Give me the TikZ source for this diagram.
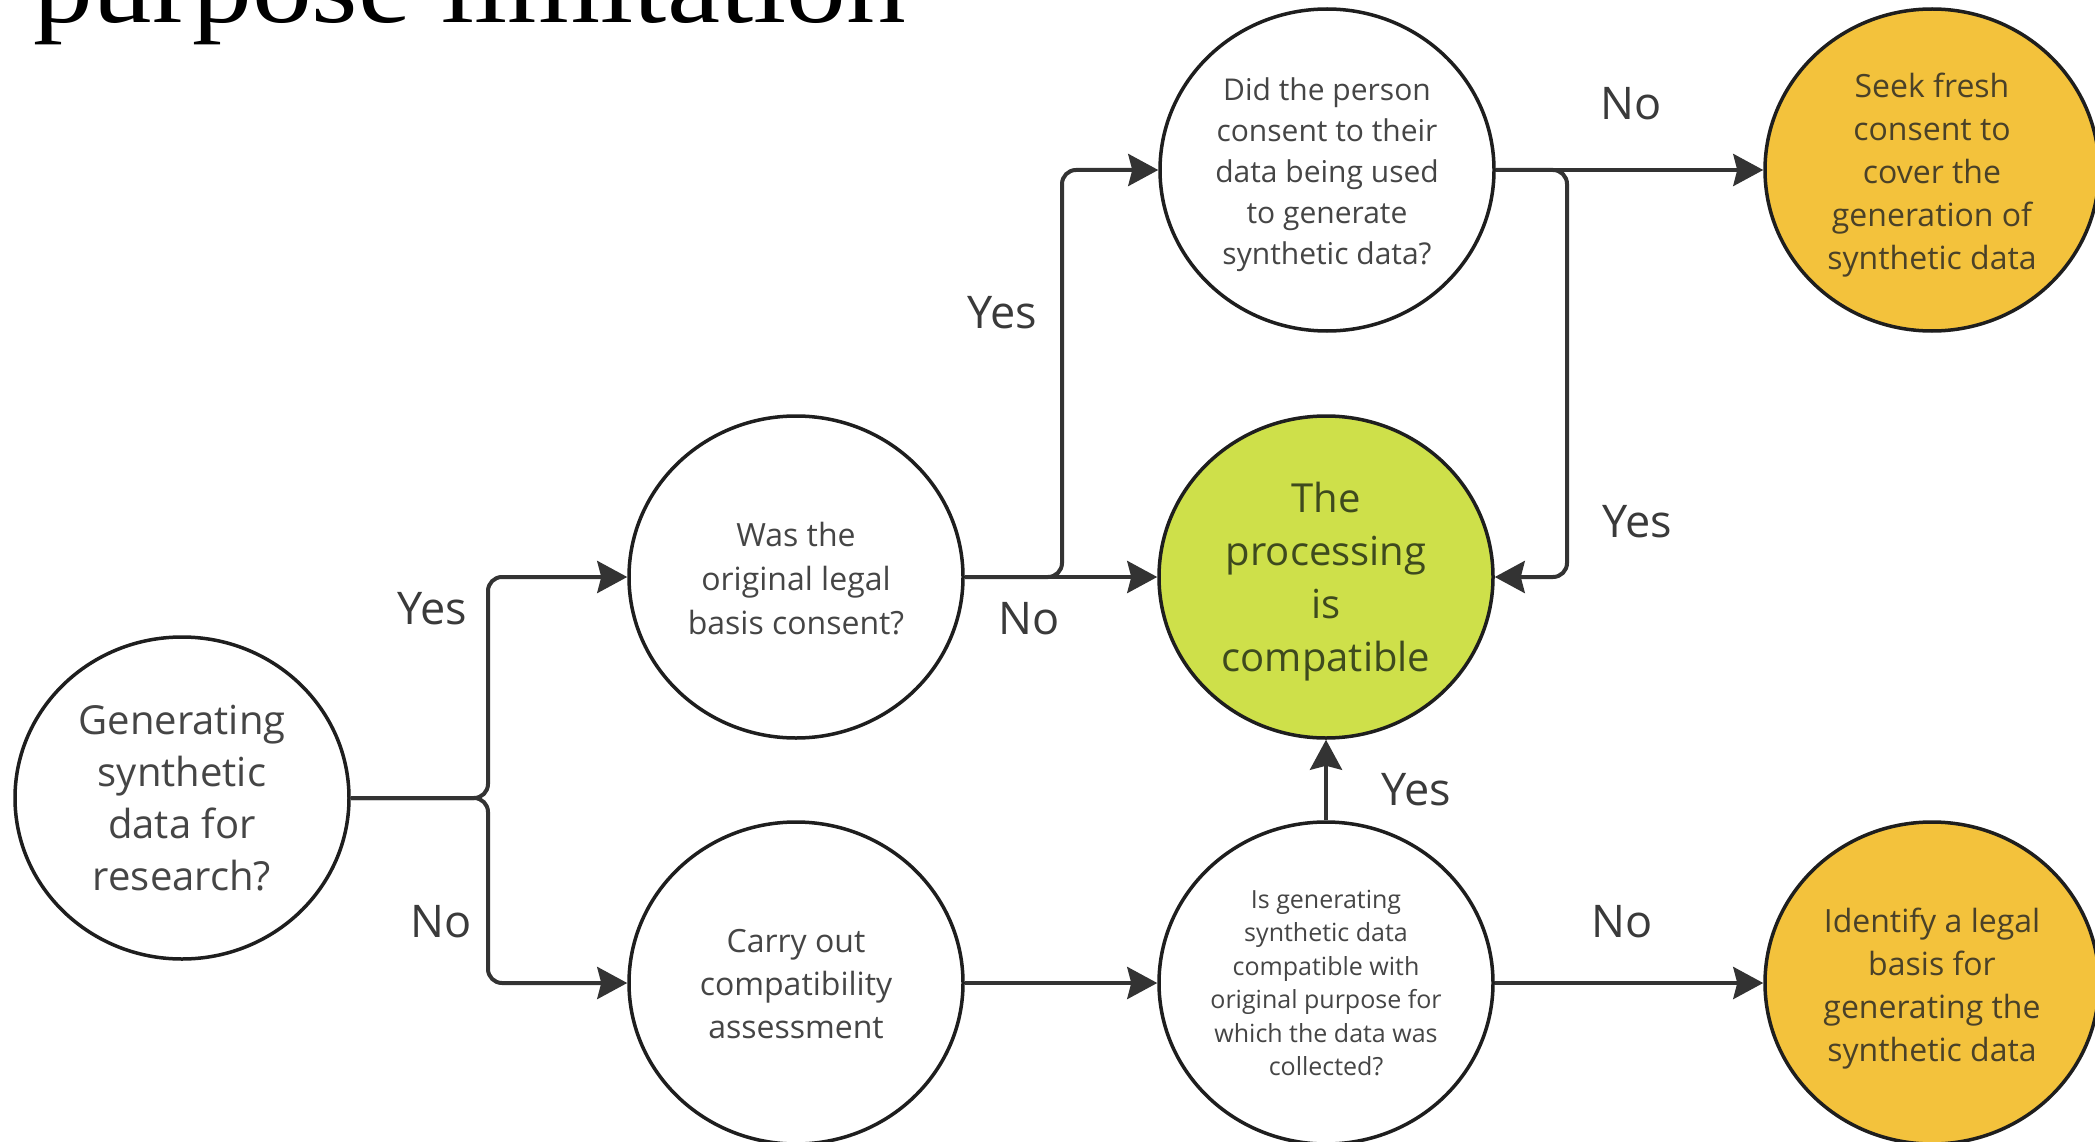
\documentclass[tikz,border=0pt]{standalone}
\usepackage{fontspec}
\setmainfont{Open Sans}
\newfontfamily\titlefont{Liberation Serif}
\usetikzlibrary{shapes.geometric,arrows.meta}
\definecolor{lineclr}{HTML}{333333}
\definecolor{circclr}{HTML}{1E1E1E}
\definecolor{txtclr}{HTML}{454545}
\definecolor{lblclr}{HTML}{3A3A3A}
\definecolor{yellowc}{HTML}{F3C23C}
\definecolor{greenc}{HTML}{CEE04A}
\definecolor{ytxt}{HTML}{4A4128}
\definecolor{gtxt}{HTML}{3E4A1E}
\begin{document}
\begin{tikzpicture}[x=1pt,y=-1pt,
  bub/.style={ellipse, draw=circclr, line width=3.5pt, minimum width=334pt, minimum height=322pt, inner sep=0pt, fill=white},
  btxt/.style={align=center, inner sep=0pt, text=txtclr},
  conn/.style={draw=lineclr, line width=4pt, rounded corners=14pt},
  arr/.style={conn, -{Stealth[length=30pt,width=32pt,inset=4pt]}},
  lbl/.style={font=\fontsize{45}{54}\selectfont, text=lblclr, inner sep=0pt}]
\useasboundingbox[fill=white] (0,0) rectangle (2095,1142);

\node[anchor=base west, inner sep=0pt, font=\titlefont\fontsize{105}{110}\selectfont] (title) at (33,23) {\scalebox{1.138}[1]{purpose limitation}};

\node[bub] (A) at (182,798) {};
\node[bub] (B) at (796,577) {};
\node[bub] (C) at (1327,170) {};
\node[bub, fill=yellowc] (D) at (1932,170) {};
\node[bub, fill=greenc] (E) at (1326,577) {};
\node[bub] (F) at (796,983) {};
\node[bub] (G) at (1326,983) {};
\node[bub, fill=yellowc] (H) at (1932,983) {};

\node[btxt, font=\fontsize{40}{52}\selectfont] (At) at (182,798) {Generating\\synthetic\\data for\\research?};
\node[btxt, font=\fontsize{32}{44}\selectfont] (Bt) at (796,579) {Was the\\original legal\\basis consent?};
\node[btxt, font=\fontsize{30}{41}\selectfont] (Ct) at (1327,175) {Did the person\\consent to their\\data being used\\to generate\\synthetic data?};
\node[btxt, text=ytxt, font=\fontsize{32}{43}\selectfont] (Dt) at (1932,175) {Seek fresh\\consent to\\cover the\\generation of\\synthetic data};
\node[btxt, text=gtxt, font=\fontsize{40}{53}\selectfont] (Et) at (1326,582) {The\\processing\\is\\compatible};
\node[btxt, font=\fontsize{32}{43}\selectfont] (Ft) at (796,984) {Carry out\\compatibility\\assessment};
\node[btxt, font=\fontsize{25}{33.4}\selectfont] (Gt) at (1326,983) {Is generating\\synthetic data\\compatible with\\original purpose for\\which the data was\\collected?};
\node[btxt, text=ytxt, font=\fontsize{32}{43}\selectfont] (Ht) at (1932,989) {Identify a legal\\basis for\\generating the\\synthetic data};

\node[lbl] (l1) at (432,609) {Yes};
\node[lbl] (l2) at (441,922) {No};
\node[lbl] (l3) at (1002,313) {Yes};
\node[lbl] (l4) at (1029,619) {No};
\node[lbl] (l5) at (1631,104) {No};
\node[lbl] (l6) at (1637,522) {Yes};
\node[lbl] (l7) at (1416,790) {Yes};
\node[lbl] (l8) at (1622,922) {No};

\coordinate (jA) at (488,798);
\coordinate (jB) at (1062,577);
\coordinate (jC) at (1567,170);
\draw[arr] (A.east) -- (jA) |- (B.west);
\draw[arr] (A.east) -- (jA) |- (F.west);
\draw[arr] (B.east) -- (E.west);
\draw[arr] (B.east) -- (jB) |- (C.west);
\draw[arr] (C.east) -- (D.west);
\draw[arr] (C.east) -- (jC) |- (E.east);
\draw[arr] (F.east) -- (G.west);
\draw[arr] (G.north) -- (E.south);
\draw[arr] (G.east) -- (H.west);
\end{tikzpicture}
\end{document}
